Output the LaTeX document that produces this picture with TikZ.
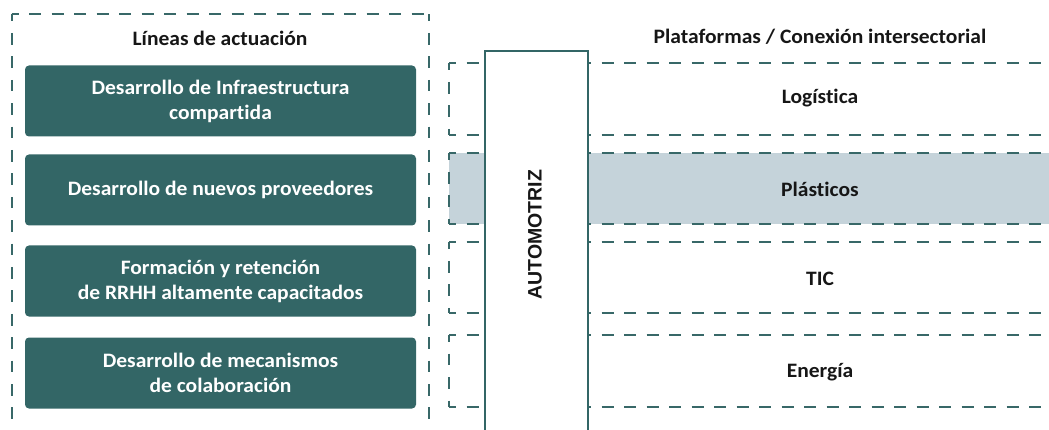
\documentclass[tikz,border=0pt]{standalone}
\usepackage{fontspec}
\setmainfont{Carlito}[Ligatures=NoCommon, FakeStretch=1.05]
\newfontfamily\autofont{Liberation Sans}
\definecolor{teal1}{HTML}{336666}
\definecolor{dashc}{HTML}{386868}
\definecolor{plas}{HTML}{C5D3DA}
\definecolor{txt}{HTML}{161616}
\tikzset{
  dashh/.style={draw=dashc, line width=1.7pt, dash pattern=on 12pt off 10.5pt, dash phase=5pt},
  dashv/.style={draw=dashc, line width=1.7pt, dash pattern=on 11.7pt off 11.7pt, dash phase=4.7pt},
  linebox/.style={fill=teal1, rounded corners=4pt, minimum width=391pt, minimum height=71pt, text=white, font=\fontsize{20.5}{25}\selectfont\bfseries, align=center, inner sep=0pt},
  ttl/.style={text=txt, font=\fontsize{20.5}{25}\selectfont\bfseries, inner sep=0pt},
  rowlabel/.style={text=txt, font=\fontsize{20.5}{25}\selectfont\bfseries, inner sep=0pt},
}
\begin{document}
\begin{tikzpicture}[x=1pt,y=-1pt]
\useasboundingbox (0,0) rectangle (1049,430);
% left dashed frame
\coordinate (fl) at (11.7,14.3);
\coordinate (fr) at (429,14.3);
\draw[dashh] (fl) -- (fr);
\draw[dashv] (fl) -- (fl |- 0,440);
\draw[dashv] (fr) -- (fr |- 0,440);
\node[ttl] (t1) at (220,38) {Líneas de actuación};
\node[linebox] (b1) at (220.5,101) {Desarrollo de Infraestructura\\compartida};
\node[linebox] (b2) at (220.5,190) {Desarrollo de nuevos proveedores};
\node[linebox] (b3) at (220.5,281) {Formación y retención\\de RRHH altamente capacitados};
\node[linebox] (b4) at (220.5,373) {Desarrollo de mecanismos\\de colaboración};
% right section
\node[ttl] (t2) at (820,37) {Plataformas / Conexión intersectorial};
\fill[plas] (449,153.3) rectangle (1060,224.3);
\foreach \ya/\yb in {63.3/135,153.3/224.3,242.3/313.3,335/407.3}{
  \draw[dashh] (449,\ya) -- (1060,\ya);
  \draw[dashh] (449,\yb) -- (1060,\yb);
  \draw[dashv] (449,\ya) -- (449,\yb);
}
\node[rowlabel] (r1) at (820,98) {Logística};
\node[rowlabel] (r2) at (820,189) {Plásticos};
\node[rowlabel] (r3) at (820,279) {TIC};
\node[rowlabel] (r4) at (820,372) {Energía};
\node[draw=teal1, line width=2pt, fill=white, minimum width=103.5pt, minimum height=400pt, anchor=north west, inner sep=0pt] (auto) at (483.5,50.5) {};
\node[rotate=90, text=txt, font=\autofont\fontsize{19.5}{23}\selectfont\bfseries, inner sep=0pt] (autotxt) at (535,234.5) {AUTOMOTRIZ};
\end{tikzpicture}
\end{document}
